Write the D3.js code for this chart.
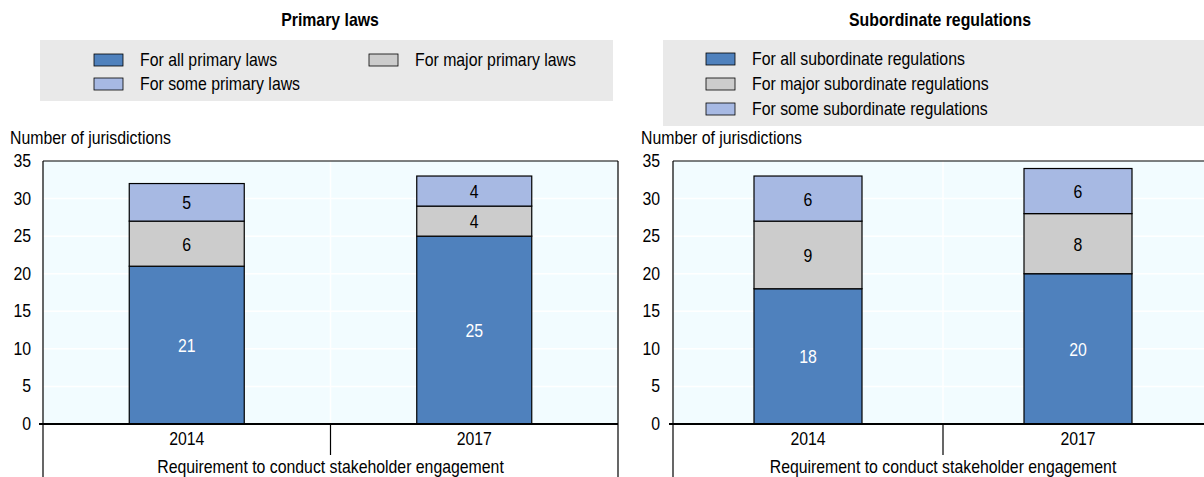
<!DOCTYPE html>
<html>
  <head>
    <script src="https://cdn.jsdelivr.net/npm/d3@7"></script>
    <style>
      body { margin: 0; background: #fff; }
      text { font-family: "Liberation Sans", Arial, sans-serif; font-size: 18px; fill: #000; }
      .title { font-weight: bold; }
    </style>
  </head>
  <body>
    <svg width="1204" height="477"></svg>
    <script>
      const years = ["2014", "2017"];
      const seriesKeys = ["all", "major", "some"];
      const primaryAll = [21, 25];
      const primaryMajor = [6, 4];
      const primarySome = [5, 4];
      const subAll = [18, 20];
      const subMajor = [9, 8];
      const subSome = [6, 6];
      const yTicks = [0, 5, 10, 15, 20, 25, 30, 35];
      const colors = { all: "#4F81BD", major: "#CCCCCC", some: "#A7B9E3" };
      const labelColors = { all: "#fff", major: "#000", some: "#000" };
      const squeeze = 0.88; // narrow look of the original font

      const svg = d3.select("svg");

      // place text at (x, y) with a horizontal squeeze
      function at(sel, fx, fy) {
        const f = v => (typeof v === "function" ? v : () => v);
        const gx = f(fx), gy = f(fy);
        return sel.attr("x", 0).attr("y", 0)
          .attr("transform", (d, i) => `translate(${gx(d, i)},${gy(d, i)}) scale(${squeeze},1)`);
      }

      function panel(opts) {
        const { x0, x1, title, titleX, legend, data, yLabelX, tickX } = opts;
        const g = svg.append("g");
        const y = d3.scaleLinear().domain([0, 35]).range([424, 161]);
        const x = d3.scaleBand().domain(years).range([x0, x1]).padding(0);

        // title
        g.append("text").attr("class", "title").attr("text-anchor", "middle")
          .call(at, titleX, 26).text(title);

        // legend box
        g.append("rect").attr("x", legend.x).attr("y", legend.y)
          .attr("width", legend.w).attr("height", legend.h).attr("fill", "#E9E9E9");
        legend.items.forEach(it => {
          g.append("rect").attr("x", it.x).attr("y", it.y - 6).attr("width", 29).attr("height", 12)
            .attr("fill", colors[it.key]).attr("stroke", "#000").attr("stroke-width", 0.8);
          g.append("text").call(at, it.x + 46, it.y + 6).text(it.label);
        });

        // plot background
        g.append("rect").attr("x", x0).attr("y", y(35))
          .attr("width", x1 - x0).attr("height", y(0) - y(35)).attr("fill", "#F2FCFF");
        g.selectAll(".grid").data(yTicks.slice(1, -1)).join("line")
          .attr("x1", x0).attr("x2", x1).attr("y1", d => y(d)).attr("y2", d => y(d))
          .attr("stroke", "#fff").attr("stroke-width", 1.5);
        g.append("line").attr("x1", x(years[1])).attr("x2", x(years[1]))
          .attr("y1", y(35)).attr("y2", y(0)).attr("stroke", "#fff").attr("stroke-width", 1.5);

        // y axis labels
        g.append("text").call(at, yLabelX, 144).text("Number of jurisdictions");
        g.selectAll(".ytick").data(yTicks).join("text")
          .attr("text-anchor", "end").call(at, tickX, d => y(d) + 6).text(d => d);

        // stacked bars
        const rows = years.map((yr, i) => ({ year: yr, all: data.all[i], major: data.major[i], some: data.some[i] }));
        const stacked = d3.stack().keys(seriesKeys)(rows);
        const bw = x.bandwidth() * 0.4;
        stacked.forEach(s => {
          const key = s.key;
          g.selectAll(null).data(s).join("rect")
            .attr("x", d => x(d.data.year) + (x.bandwidth() - bw) / 2)
            .attr("y", d => y(d[1]))
            .attr("width", bw)
            .attr("height", d => y(d[0]) - y(d[1]))
            .attr("fill", colors[key]).attr("stroke", "#000").attr("stroke-width", 1.2);
          g.selectAll(null).data(s).join("text")
            .attr("text-anchor", "middle").style("fill", labelColors[key])
            .call(at, d => x(d.data.year) + x.bandwidth() / 2, d => y((d[0] + d[1]) / 2) + 7)
            .text(d => d[1] - d[0]);
        });

        // frame
        g.append("line").attr("x1", x0).attr("x2", x1).attr("y1", y(35)).attr("y2", y(35))
          .attr("stroke", "#000").attr("stroke-width", 1.2);
        g.append("line").attr("x1", x0).attr("x2", x0).attr("y1", y(35)).attr("y2", 477)
          .attr("stroke", "#000").attr("stroke-width", 1.2);
        g.append("line").attr("x1", x1).attr("x2", x1).attr("y1", y(35)).attr("y2", 477)
          .attr("stroke", "#000").attr("stroke-width", 1.2);
        g.append("line").attr("x1", x0 - 4).attr("x2", x1).attr("y1", y(0)).attr("y2", y(0))
          .attr("stroke", "#000").attr("stroke-width", 2);
        g.append("line").attr("x1", x(years[1])).attr("x2", x(years[1]))
          .attr("y1", y(0)).attr("y2", 455).attr("stroke", "#000").attr("stroke-width", 1.2);

        // x labels
        g.selectAll(".xl").data(years).join("text")
          .attr("text-anchor", "middle").call(at, d => x(d) + x.bandwidth() / 2, 445).text(d => d);
        g.append("text").attr("text-anchor", "middle").call(at, x(years[1]), 473)
          .text("Requirement to conduct stakeholder engagement");
      }

      panel({
        x0: 43, x1: 618, title: "Primary laws", titleX: 330, yLabelX: 10, tickX: 31,
        data: { all: primaryAll, major: primaryMajor, some: primarySome },
        legend: { x: 40, y: 40, w: 573, h: 61, items: [
          { key: "all", x: 94, y: 60, label: "For all primary laws" },
          { key: "major", x: 369, y: 60, label: "For major primary laws" },
          { key: "some", x: 94, y: 84, label: "For some primary laws" }
        ] }
      });
      panel({
        x0: 673, x1: 1213, title: "Subordinate regulations", titleX: 940, yLabelX: 641, tickX: 660,
        data: { all: subAll, major: subMajor, some: subSome },
        legend: { x: 663, y: 40, w: 560, h: 86, items: [
          { key: "all", x: 706, y: 59, label: "For all subordinate regulations" },
          { key: "major", x: 706, y: 84, label: "For major subordinate regulations" },
          { key: "some", x: 706, y: 109, label: "For some subordinate regulations" }
        ] }
      });
    </script>
  </body>
</html>
